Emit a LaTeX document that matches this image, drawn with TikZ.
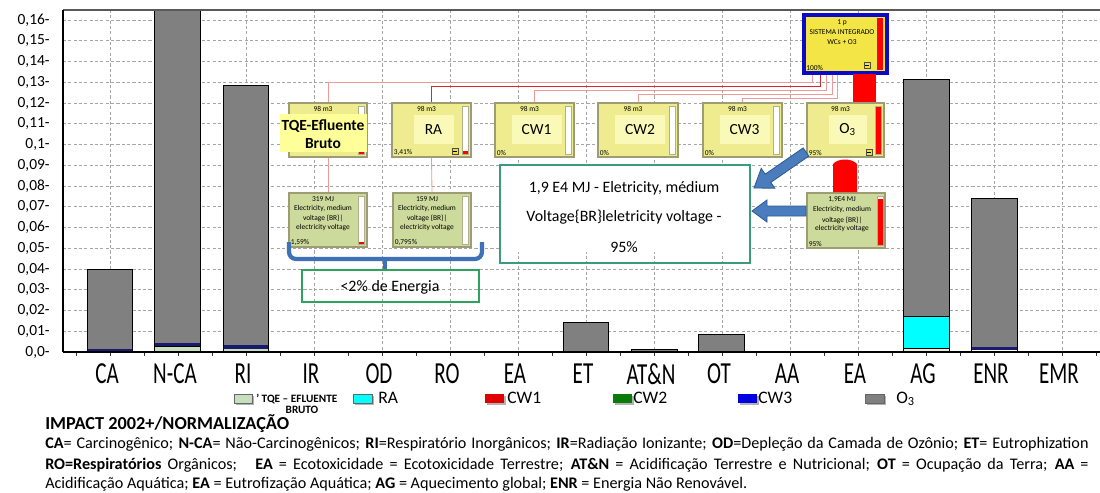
\documentclass[tikz,border=0pt]{standalone}
\usepackage{fontspec}
\setmainfont{Carlito}
\usetikzlibrary{fit}
\definecolor{gridc}{HTML}{A6A6A6}
\definecolor{barc}{HTML}{808080}
\definecolor{navyb}{HTML}{1A1A6E}
\definecolor{ltgreen}{HTML}{C6DFC0}
\definecolor{cyanb}{HTML}{00FFFF}
\definecolor{ubfill}{HTML}{EEEC8E}
\definecolor{ubhi}{HTML}{FAF9B8}
\definecolor{ubdraw}{HTML}{9E9C72}
\definecolor{lbfill}{HTML}{CCDB9C}
\definecolor{sysfill}{HTML}{F3E545}
\definecolor{sysblue}{HTML}{0A0AC8}
\definecolor{pinkl}{HTML}{EE9A9A}
\definecolor{redl}{HTML}{D42A2A}
\definecolor{arrowf}{HTML}{4A7DBE}
\definecolor{arrowd}{HTML}{2F5A8E}
\definecolor{bracec}{HTML}{3F71B6}
\definecolor{greenbox}{HTML}{2EA35E}
\definecolor{tealbox}{HTML}{3A9C7C}
\definecolor{tqehi}{HTML}{FFFF99}
\definecolor{lgred}{HTML}{E00000}
\definecolor{lggreen}{HTML}{0A7A0A}
\definecolor{lgblue}{HTML}{0000E0}
\definecolor{minusf}{HTML}{F0E030}
\tikzset{
  gridline/.style={gridc, dash pattern=on 2.2pt off 1.6pt, line width=0.6pt},
  barline/.style={draw=black, line width=0.7pt},
  ubox/.style={fill=ubfill, draw=ubdraw, line width=0.9pt, inner sep=0pt},
  lbox/.style={fill=lbfill, draw=ubdraw, line width=0.9pt, inner sep=0pt},
  sysbox/.style={fill=sysfill, draw=sysblue, line width=2.2pt, inner sep=0pt},
  tinyt/.style={font=\fontsize{5.3}{5.5}\selectfont, inner sep=0pt},
  boxlab/.style={font=\fontsize{11}{11}\selectfont, inner sep=0pt},
  bigt/.style={font=\fontsize{11.3}{12}\selectfont, inner sep=0pt},
  ylab/.style={font=\fontsize{11}{11}\selectfont, anchor=east, inner sep=0pt},
  catlab/.style={font=\fontsize{15}{15}\selectfont, inner sep=0pt, yscale=1.45},
  legt/.style={font=\fontsize{12.5}{13}\selectfont, anchor=west, inner sep=0pt},
  legs/.style={font=\bfseries\fontsize{8}{9}\selectfont, inner sep=0pt},
  legbox/.style={draw=black!60, line width=0.4pt},
  legshadow/.style={fill=black!30},
  pinkline/.style={pinkl, line width=0.6pt},
  barwhite/.style={draw=ubdraw!80, line width=0.5pt},
  bluearrow/.style={fill=arrowf, draw=arrowd, line width=0.6pt},
  bottomt/.style={font=\fontsize{11.5}{13}\selectfont, anchor=west, inner sep=0pt}
}
\newcommand{\myminus}[2]{%
  \draw[fill=minusf, draw=black!70, line width=0.4pt] (#1-3,#2-3) rectangle (#1+3,#2+3);
  \draw[black, line width=0.4pt] (#1-1.8,#2) -- (#1+1.8,#2);}
\newcommand{\myupbox}[7]{% name, x1, x2, label, pct, redtop, halfwidth of highlight
  \node[ubox, fit={(#2,103)(#3,157)}] (#1) {};
  \fill[ubhi] ({(#2+#3)/2+2-#7},115) rectangle ({(#2+#3)/2+2+#7},144);
  \node[tinyt] (#1top) at ({(#2+#3-10)/2},108.5) {98 m3};
  \node[boxlab] (#1lab) at ({(#2+#3)/2+2},129.5) {#4};
  \node[tinyt, anchor=south west] (#1pct) at (#2+1.5,155.5) {#5};
  \fill[white] (#3-9,106) rectangle (#3-3,154);
  \fill[red] (#3-9,#6) rectangle (#3-3,154);
  \draw[barwhite] (#3-9,106) rectangle (#3-3,154);}
\newcommand{\mylegbox}[4]{% x1, x2, colour, draw border (1/0)
  \fill[legshadow] (#1+1.5,395.5) rectangle (#2+1.5,404.5);
  \fill[#3] (#1,394) rectangle (#2,403);
  \ifnum#4=1 \draw[legbox] (#1,394) rectangle (#2,403);\fi}
\begin{document}
\begin{tikzpicture}[x=0.025cm,y=-0.025cm]
\useasboundingbox (0,0) rectangle (1100,493);
% grid
\foreach \k in {1,...,16} \draw[gridline] (63,{352-20.75*\k}) -- (1100,{352-20.75*\k});
\foreach \k in {0,...,14} \draw[gridline] ({110+68*\k},10) -- ({110+68*\k},352);
% y labels
\foreach \k/\t in {0/{0,0},1/{0,01},2/{0,02},3/{0,03},4/{0,04},5/{0,05},6/{0,06},7/{0,07},8/{0,08},9/{0,09},10/{0,1},11/{0,11},12/{0,12},13/{0,13},14/{0,14},15/{0,15},16/{0,16}}
  \node[ylab] (yl\k) at (50,{352-20.75*\k}) {\t-};
% bars
\fill[barc] (87,269) rectangle (132,349);
\fill[navyb] (87,349) rectangle (132,352);
\draw[barline] (87,352) rectangle (132,269);
\fill[barc] (154,10) rectangle (200,343);
\fill[navyb] (154,343) rectangle (200,346);
\fill[ltgreen] (154,346) rectangle (200,352);
\draw[barline] (154,10) -- (154,352) (200,10) -- (200,352) (154,346) -- (200,346);
\fill[barc] (223,85) rectangle (268,345);
\fill[navyb] (223,345) rectangle (268,349);
\fill[ltgreen] (223,349) rectangle (268,352);
\draw[barline] (223,352) rectangle (268,85);
\fill[barc] (563,322) rectangle (608,351);
\fill[navyb] (563,350.5) rectangle (608,352);
\draw[barline] (563,352) rectangle (608,322);
\fill[barc] (631,349) rectangle (677,352);
\draw[barline] (631,352) rectangle (677,349);
\fill[barc] (698,334) rectangle (744,352);
\draw[barline] (698,352) rectangle (744,334);
\fill[barc] (903,79) rectangle (949,316);
\fill[cyanb] (903,316) rectangle (949,348);
\fill[ltgreen!50!white] (903,348) rectangle (949,352);
\draw[barline] (903,352) rectangle (949,79);
\draw[barline] (903,316) -- (949,316) (903,348) -- (949,348);
\fill[barc] (971,198) rectangle (1017,347);
\fill[navyb] (971,347) rectangle (1017,350);
\draw[barline] (971,352) rectangle (1017,198);
% frame
\draw[black!65, line width=0.8pt] (63,10) -- (1100,10);
\draw[black, line width=1pt] (63,10) -- (63,352);
\foreach \k in {-1,...,29} \draw[black!80, line width=0.5pt] ({110+34*\k},352) -- ({110+34*\k},356);
\draw[black, line width=1.2pt] (63,352) -- (1100,352);
% category labels
\foreach \i/\t in {0/CA,1/N-CA,2/RI,3/IR,4/OD,5/RO,6/EA,7/ET,8/AT\&N,9/OT,10/AA,11/EA,12/AG,13/ENR,14/EMR}
  \node[catlab] (cat\i) at ({107+68*\i},374) {\t};
% system box
\node[sysbox, fit={(804,15)(887,73)}] (sys) {};
\fill[red] (877,18) rectangle (883,70);
\node[tinyt] (sys1) at (842,22.5) {1 p};
\node[tinyt] (sys2) at (842,32) {SISTEMA INTEGRADO};
\node[tinyt] (sys3) at (842,42) {WCs + O3};
\node[tinyt, anchor=south west] (sys4) at (806,70.5) {100\%};
\myminus{867}{65}
% upper boxes
\myupbox{tqe}{289}{367}{}{}{151}{20}
\myupbox{ra}{392}{471}{RA}{3,41\%}{151}{20}
\myupbox{cwa}{495}{574}{CW1}{0\%}{154}{25}
\myupbox{cwb}{598}{678}{CW2}{0\%}{154}{25}
\myupbox{cwc}{703}{782}{CW3}{0\%}{154}{25}
\myupbox{ozo}{807}{884}{O\textsubscript{3}}{95\%}{107}{19}
\myminus{455}{151}
\myminus{869}{152}
% TQE highlight label
\fill[tqehi] (280,114) rectangle (367,152);
\node[font=\bfseries\fontsize{11}{12.8}\selectfont, align=center, inner sep=0pt] (tqelab) at (323,134) {TQE-Efluente\\Bruto};
% connectors system -> boxes
\draw[pinkline] (sys.south west) ++(10,0) -- ++(0,8) -| (tqe.north);
\draw[redl, line width=1.1pt] (sys.south west) ++(18,0) -- ++(0,12) -| (ra.north);
\draw[pinkline] (sys.south west) ++(24,0) -- ++(0,16) -| (cwa.north);
\draw[pinkline] (sys.south west) ++(30,0) -- ++(0,20) -| (cwb.north);
\draw[pinkline] (sys.south west) ++(35,0) -- ++(0,24) -| (cwc.north);
% lower energy boxes
\node[lbox, fit={(289,193)(367,247)}] (tqeE) {};
\node[lbox, fit={(393,193)(471,247)}] (raE) {};
\node[lbox, fit={(807,193)(885,248)}] (ozoE) {};
\draw[pinkline] (tqe.south) -- (tqeE.north);
\draw[pinkline] (ra.south) -- (raE.north);
\node[tinyt] (e1a) at (323,199.5) {319 MJ};
\node[tinyt] (e1b) at (323,209) {Electricity, medium};
\node[tinyt] (e1c) at (323,218.5) {voltage \{BR\}|};
\node[tinyt] (e1d) at (323,228) {electricity voltage};
\node[tinyt, anchor=south west] (e1e) at (290.5,246) {1,59\%};
\fill[white] (358,196) rectangle (364,244);
\fill[red] (358,241.5) rectangle (364,244);
\draw[barwhite] (358,196) rectangle (364,244);
\node[tinyt] (e2a) at (427,199.5) {159 MJ};
\node[tinyt] (e2b) at (427,209) {Electricity, medium};
\node[tinyt] (e2c) at (427,218.5) {voltage \{BR\}|};
\node[tinyt] (e2d) at (427,228) {electricity voltage};
\node[tinyt, anchor=south west] (e2e) at (394.5,246) {0,795\%};
\fill[white] (462,196) rectangle (468,244);
\draw[barwhite] (462,196) rectangle (468,244);
\node[tinyt] (e3a) at (842,200) {1,9E4 MJ};
\node[tinyt] (e3b) at (842,210) {Electricity, medium};
\node[tinyt] (e3c) at (842,220) {voltage \{BR\}|};
\node[tinyt] (e3d) at (842,229) {electricity voltage};
\node[tinyt, anchor=south west] (e3e) at (808.5,247) {95\%};
\fill[white] (877,196) rectangle (883,245);
\fill[red] (877,199) rectangle (883,245);
\draw[barwhite] (877,196) rectangle (883,245);
% red flow connectors
\fill[red] (853,74) rectangle (876,102);
\fill[red] (833,192) -- (833,164) .. controls (838,158) and (852,158) .. (857,164) -- (857,192) -- cycle;
% blue arrows
\draw[bluearrow] (803.2,147.9) -- (765.2,174.2) -- (761.2,168.4) -- (754,188) -- (774.8,188.2) -- (770.8,182.4) -- (808.8,156.1) -- cycle;
\draw[bluearrow] (806,206) -- (767,206) -- (767,200) -- (752,211) -- (767,222) -- (767,216) -- (806,216) -- cycle;
% big text box
\fill[white] (500,165) rectangle (750,252);
\node[draw=tealbox, line width=0.8pt, inner sep=0pt, fit={(500,165)(750,263)}] (bigbox) {};
\node[bigt] (bt1) at (624,188) {1,9 E4 MJ - Eletricity, médium};
\node[bigt] (bt2) at (624,217) {Voltage\{BR\}leletricity voltage -};
\node[bigt] (bt3) at (624,247) {95\%};
% bracket
\draw[bracec, line width=3pt, rounded corners=5pt] (289,242) -- (289,259) -- (482,259) -- (482,242);
\draw[bracec, line width=3pt] (385,258) -- (385,269);
% energy box
\node[draw=greenbox, line width=1pt, inner sep=0pt, fit={(302,270)(479,302)}] (energ) {};
\node[bigt] (energt) at (390,287) {<2\% de Energia};
% legend
\mylegbox{234}{252}{ltgreen}{1}
\node[legs, anchor=west] (lg0) at (256,399) {' TQE – EFLUENTE};
\node[legs] (lg0b) at (302,409.5) {BRUTO};
\mylegbox{353}{372}{cyanb}{1}
\node[legt] (lg1) at (378,397.5) {RA};
\mylegbox{485}{504}{lgred}{0}
\node[legt] (lg2) at (507,397.5) {CW1};
\mylegbox{613}{632}{lggreen}{0}
\node[legt] (lg3) at (633,397.5) {CW2};
\mylegbox{738}{757}{lgblue}{0}
\node[legt] (lg4) at (758,397.5) {CW3};
\mylegbox{865}{884}{barc}{1}
\node[legt] (lg5) at (896,399) {O\textsubscript{3}};
% bottom text
\node[bottomt, font=\bfseries\fontsize{13}{14}\selectfont] (imp) at (45,424) {IMPACT 2002+/NORMALIZAÇÃO};
\node[bottomt] (bl1) at (45,444) {\makebox[741.9pt][s]{\textbf{CA}= Carcinogênico; \textbf{N-CA}= Não-Carcinogênicos; \textbf{RI}=Respiratório Inorgânicos; \textbf{IR}=Radiação Ionizante; \textbf{OD}=Depleção da Camada de Ozônio; \textbf{ET}= Eutrophization}};
\node[bottomt] (bl2) at (45,465) {\makebox[741.9pt][s]{\textbf{RO=Respiratórios} Orgânicos;\ \ \ \textbf{EA} = Ecotoxicidade = Ecotoxicidade Terrestre; \textbf{AT\&N} = Acidificação Terrestre e Nutricional; \textbf{OT} = Ocupação da Terra; \textbf{AA} =}};
\node[bottomt] (bl3) at (45,484) {Acidificação Aquática; \textbf{EA} = Eutrofização Aquática; \textbf{AG} = Aquecimento global; \textbf{ENR} = Energia Não Renovável.};
\end{tikzpicture}
\end{document}
